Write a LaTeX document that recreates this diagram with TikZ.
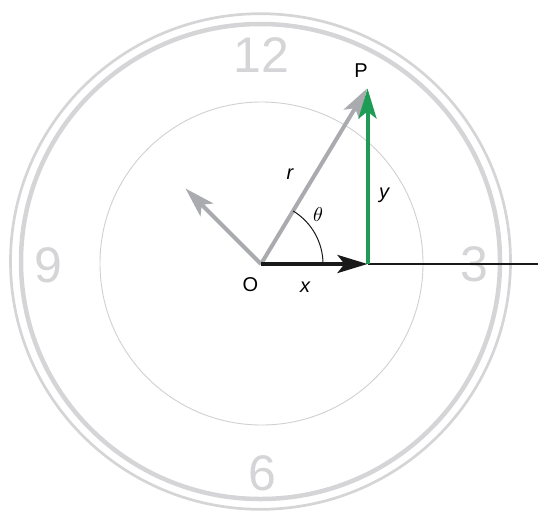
\documentclass[tikz,border=0pt]{standalone}
\usepackage{fontspec}
\setmainfont{Liberation Sans}
\usetikzlibrary{arrows.meta}
\definecolor{facegray}{RGB}{213,213,215}
\definecolor{ringgray}{RGB}{208,208,210}
\definecolor{vecgray}{RGB}{170,171,174}
\definecolor{vecgreen}{RGB}{30,156,86}
\definecolor{vecblack}{RGB}{25,25,25}
\tikzset{
  digit/.style={text=facegray, inner sep=0pt, font=\fontsize{50}{50}\selectfont},
  lbl/.style={inner sep=0pt, font=\fontsize{20}{20}\selectfont},
  ilbl/.style={inner sep=0pt, font=\fontsize{20}{20}\selectfont\itshape},
  vec/.style={line width=4pt, -{Stealth[length=30pt, width=18pt, inset=7pt]}},
}
\begin{document}
\begin{tikzpicture}[x=1pt, y=-1pt]
\useasboundingbox (0,0) rectangle (538,515);
% clock face
\draw[facegray, line width=2.7pt] (260.5,261.5) ellipse [x radius=250, y radius=247.8];
\draw[facegray, line width=4.5pt] (260.5,261.5) ellipse [x radius=239.5, y radius=237.5];
\draw[ringgray, line width=0.9pt] (261.5,263.5) circle [radius=161.5];
\node[digit] (d12) at (261.5,55) {12};
\node[digit] (d3) at (474.5,264.5) {3};
\node[digit] (d9) at (48.5,265) {9};
\node[digit] (d6) at (262.5,473.5) {6};
% points
\coordinate (O) at (261,264);
\coordinate (P) at (367,88.5);
\coordinate (X) at (367.5,264);
\coordinate (Q) at (185.5,188.5);
\coordinate (E) at (538,264);
% x-axis thin line
\draw[vecblack, line width=1.3pt] (X) -- (E);
% vectors
\draw[vec, vecgray] (O) -- (Q);
\draw[vec, vecgray] (O) -- (P);
\draw[vec, vecgreen] (X) -- (367.5,88.5);
\draw[vec, vecblack] (O) -- (X);
% angle arc
\draw[vecblack, line width=1pt] (O) ++(62,0) arc[start angle=0, end angle=-58.8, radius=62];
% labels
\node[lbl] (lP) at (361,71) {P};
\node[lbl] (lO) at (250.5,285) {O};
\node[ilbl] (lx) at (305,287) {x};
\node[ilbl] (lr) at (290,174) {r};
\node[ilbl] (ly) at (384,195) {y};
\node[inner sep=0pt] (lt) at (318,215) {\scalebox{2}{$\theta$}};
\end{tikzpicture}
\end{document}
